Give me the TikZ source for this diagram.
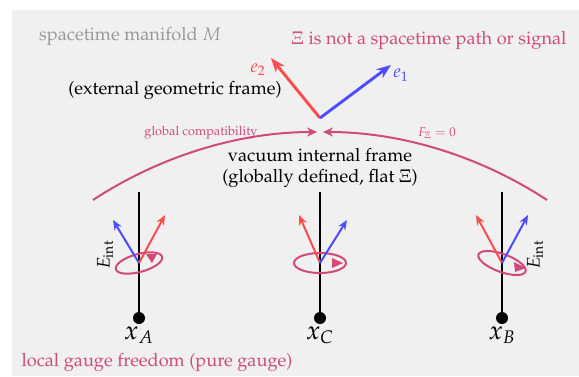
\documentclass[tikz,border=0pt]{standalone}
\usepackage[T1]{fontenc}
\usepackage{mathpazo}
\usetikzlibrary{arrows.meta, positioning}
\definecolor{ered}{HTML}{FF4D4D}
\definecolor{eblue}{HTML}{4D4DFF}
\definecolor{gaugepink}{HTML}{D04A7A}
\definecolor{mfdgray}{HTML}{999999}
\definecolor{bggray}{HTML}{F0F0F0}

\begin{document}
\begin{tikzpicture}[
      x=0.55pt, y=-0.55pt,
      bigvec/.style={-{Stealth[length=8pt, width=6pt]}, line width=1.6pt},
      smallvec/.style={-{Stealth[length=5.5pt, width=4.5pt]}, line width=1.1pt},
      stem/.style={line width=1.1pt, black},
      dot/.style={circle, fill=black, inner sep=0pt, minimum size=6.6pt},
      gauge/.style={gaugepink, line width=1.1pt},
      compat/.style={gaugepink, line width=1.1pt, -{Stealth[length=5.5pt, width=5pt]}},
      ptlabel/.style={font=\Large, inner sep=1pt} ]

    \useasboundingbox (0,0) rectangle (579,376);
    \fill[bggray] (12,10) rectangle (579,376);

    % top: manifold and external frame
    \node[mfdgray] (mfd) at (130,36) {spacetime manifold $M$};
    \node[gaugepink] (notpath) at (429,40) {$\Xi$ is not a spacetime path or signal};

    \coordinate (o) at (320,118);
    \coordinate (e1tip) at (391,65);
    \coordinate (e2tip) at (271,58);
    \draw[bigvec, ered]  (o) -- (e2tip);
    \draw[bigvec, eblue] (o) -- (e1tip);
    \node[ered]  (e2) at (258,70) {$e_2$};
    \node[eblue] (e1) at (401,75) {$e_1$};
    \node (ext) at (175,90) {(external geometric frame)};

    % global compatibility arc
    \coordinate (arcL) at (93,200);
    \coordinate (arcR) at (547,200);
    \coordinate (topL) at (317,132);
    \coordinate (topR) at (323,132);
    \draw[compat] (arcL) .. controls (160,156) and (239,132) .. (topL);
    \draw[compat] (arcR) .. controls (480,156) and (401,132) .. (topR);
    \node[gaugepink, font=\scriptsize] (glob) at (201,133) {global compatibility};
    \node[gaugepink, font=\scriptsize] (flat) at (437,133) {$F_{\Xi}=0$};
    \node[align=center] (vac) at (320,168) {vacuum internal frame\\ (globally defined, flat $\Xi$)};

    % the three points
    \coordinate (tA) at (139,192);
    \coordinate (tC) at (320,192);
    \coordinate (tB) at (502,192);
    \node[dot] (dA) at (139,318) {};
    \node[dot] (dC) at (320,318) {};
    \node[dot] (dB) at (502,318) {};
    \draw[stem] (tA) -- (dA);
    \draw[stem] (tC) -- (dC);
    \draw[stem] (tB) -- (dB);
    \node[ptlabel, below=0pt of dA] (xA) {$x_A$};
    \node[ptlabel, below=0pt of dC] (xC) {$x_C$};
    \node[ptlabel, below=0pt of dB] (xB) {$x_B$};

    % internal frames
    \coordinate (oA) at (139,263);
    \coordinate (oC) at (320,263);
    \coordinate (oB) at (502,263);

    \draw[gauge, rotate around={15:(oA)}] (oA) ellipse (24 and 9);
    \draw[smallvec, eblue] (oA) -- ++(-26,-43);
    \draw[smallvec, ered]  (oA) -- ++(26,-48);
    \fill[gaugepink] (146,254) -- (157,254) -- (152,263) -- cycle;
    \node[rotate=90] (EA) at (105,255) {$E_{\mathrm{int}}$};

    \draw[gauge] (oC) ellipse (26 and 10);
    \draw[smallvec, ered]  (oC) -- ++(-21,-48);
    \draw[smallvec, eblue] (oC) -- ++(27,-43);
    \fill[gaugepink] (332,258) -- (332,268) -- (343,263) -- cycle;

    \draw[gauge, rotate around={-20:(oB)}] (oB) ellipse (25 and 9);
    \draw[smallvec, ered]  (oB) -- ++(-26,-48);
    \draw[smallvec, eblue] (oB) -- ++(26,-48);
    \fill[gaugepink] (514,262) -- (515,272) -- (526,268) -- cycle;
    \node[rotate=90] (EB) at (535,255) {$E_{\mathrm{int}}$};

    \node[gaugepink] (local) at (157,362) {local gauge freedom (pure gauge)};
\end{tikzpicture}
\end{document}
